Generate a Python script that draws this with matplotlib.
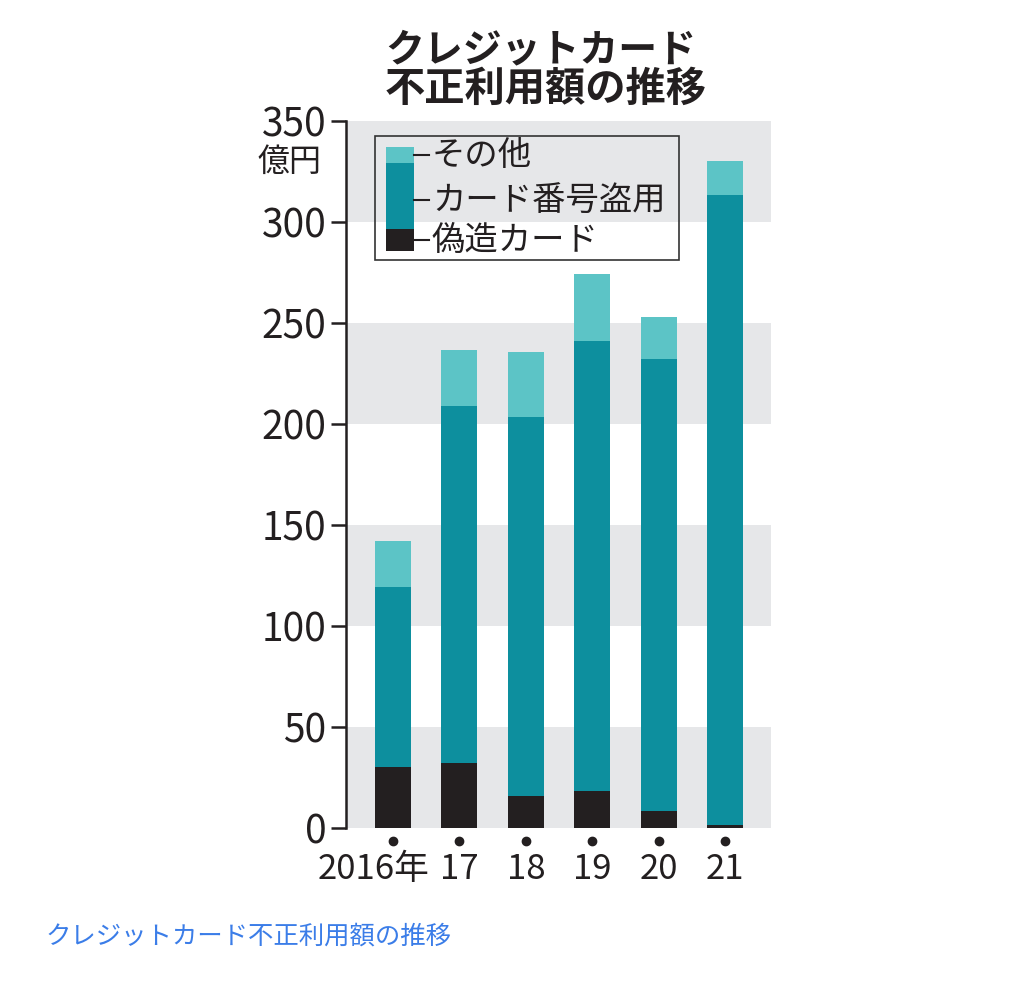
import numpy as np
import matplotlib
matplotlib.use("Agg")
import matplotlib.pyplot as plt
from matplotlib.patches import Rectangle
from matplotlib.transforms import offset_copy, ScaledTranslation

plt.rcParams['font.family'] = ['Noto Sans CJK JP', 'DejaVu Sans']

# --- data (億円) ---
years = ['2016年', '17', '18', '19', '20', '21']
forged = [30.2, 32.2, 16.0, 18.1, 8.4, 1.5]          # 偽造カード
number_theft = [88.9, 176.7, 187.7, 222.9, 223.6, 311.7]  # カード番号盗用
other = [22.9, 27.5, 31.7, 33.1, 21.0, 16.9]         # その他
y_ticks = [0, 50, 100, 150, 200, 250, 300, 350]

c_forged = '#231f20'
c_number = '#0d8f9e'
c_other = '#5cc4c6'
c_band = '#e6e7e9'

fig = plt.figure(figsize=(10.24, 9.81), dpi=100)
ax = fig.add_axes([346/1024, 1-828/981, (771-346)/1024, (828-121)/981])

x = np.arange(len(years))
forged = np.array(forged)
number_theft = np.array(number_theft)
other = np.array(other)

# gray bands
for lo in range(0, 350, 100):
    ax.axhspan(lo, lo + 50, color=c_band, lw=0, zorder=0)

w = 0.54
ax.bar(x, forged, w, color=c_forged, zorder=2)
ax.bar(x, number_theft, w, bottom=forged, color=c_number, zorder=2)
ax.bar(x, other, w, bottom=forged + number_theft, color=c_other, zorder=2)

ax.set_xlim(-0.707, 5.69)
ax.set_ylim(0, 350)
for s in ['top', 'right', 'bottom']:
    ax.spines[s].set_visible(False)
ax.spines['left'].set_linewidth(1.8)
ax.spines['left'].set_color('#231f20')

ax.set_yticks(y_ticks)
ax.set_yticklabels([str(v) for v in y_ticks], fontsize=28, color='#231f20')
ax.tick_params(axis='y', length=11, width=1.8, pad=3, color='#231f20')
ax.set_xticks(x)
ax.set_xticklabels(years, fontsize=25, color='#231f20')
ax.tick_params(axis='x', length=0, pad=17)
# first label sits a bit to the left, as in the original
lab0 = ax.get_xticklabels()[0]
lab0.set_transform(lab0.get_transform() + ScaledTranslation(-0.19, 0, fig.dpi_scale_trans))

# dots under each bar
dot_tr = offset_copy(ax.get_xaxis_transform(), fig=fig, x=0, y=-13, units='dots')
ax.plot(x, np.zeros(len(x)), 'o', color='#231f20', ms=6, transform=dot_tr, clip_on=False)

# unit label
fig.text(290/1024, 1-162/981, '億円', fontsize=23, ha='center', va='center', color='#231f20')

# legend box drawn manually
ta = ax.transAxes
def fx(px):
    return (px - 346) / (771 - 346)
def fy(py):
    return (828 - py) / (828 - 121)

ax.add_patch(Rectangle((fx(375), fy(260)), fx(679) - fx(375), fy(136) - fy(260),
                       transform=ta, fill=False, edgecolor='#333333', lw=1.2, zorder=3))
for top, bot, col in [(147, 163, c_other), (163, 229, c_number), (229, 251, c_forged)]:
    ax.add_patch(Rectangle((fx(386), fy(bot)), fx(414) - fx(386), fy(top) - fy(bot),
                           transform=ta, color=col, lw=0, zorder=4))
for yy, label in [(155, 'その他'), (200, 'カード番号盗用'), (240, '偽造カード')]:
    ax.plot([fx(414), fx(429)], [fy(yy), fy(yy)], color='#231f20', lw=1.5,
            transform=ta, zorder=4)
    ax.text(fx(432), fy(yy), label, transform=ta, fontsize=24, va='center',
            ha='left', color='#231f20', zorder=4)

# title
fig.text(385/1024, 1-50/981, 'クレジットカード', fontsize=28, fontweight='bold',
         ha='left', va='center', color='#231f20')
fig.text(385/1024, 1-89/981, '不正利用額の推移', fontsize=29, fontweight='bold',
         ha='left', va='center', color='#231f20')

# caption
fig.text(45/1024, 1-937/981, 'クレジットカード不正利用額の推移', fontsize=18.3,
         ha='left', va='center', color='#3b7de8')

fig.savefig('out.png', dpi=100)
